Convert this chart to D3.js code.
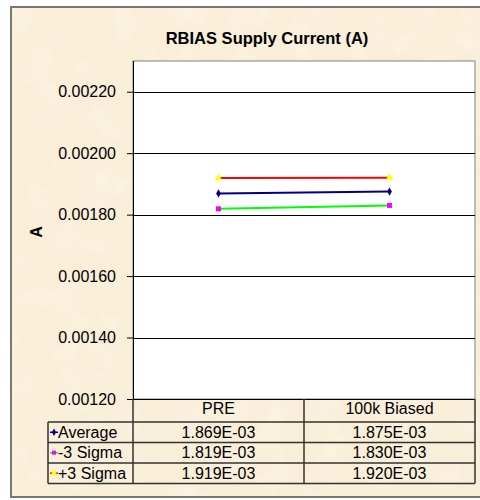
<!DOCTYPE html>
<html>
<head>
<meta charset="utf-8">
<script src="https://cdn.jsdelivr.net/npm/d3@7"></script>
<style>
  body { margin: 0; background: #fff; }
  svg { display: block; font-family: Arial, "Liberation Sans", sans-serif; }
</style>
</head>
<body>
<svg id="canvas"></svg>
<script>
/* Data */
const categories = ["PRE", "100k Biased"];
const seriesNames = ["Average", "-3 Sigma", "+3 Sigma"];
const average = [1.869e-3, 1.875e-3];
const minus3Sigma = [1.819e-3, 1.830e-3];
const plus3Sigma = [1.919e-3, 1.920e-3];
const yTicks = [0.0012, 0.0014, 0.0016, 0.0018, 0.0020, 0.0022];
const yDomain = [0.0012, 0.0023];

const series = [
    { name: seriesNames[0], values: average, line: "#000080", marker: "#000080", shape: "diamond" },
    { name: seriesNames[1], values: minus3Sigma, line: "#00ff00", marker: "#ff00ff", shape: "square" },
    { name: seriesNames[2], values: plus3Sigma, line: "#ff0000", marker: "#ffff00", shape: "triangle" }
];

const width = 480, height = 500;
const plot = { left: 133, right: 475, top: 61, bottom: 399 };
const legendLeft = 48;
const headerH = 23, rowH = 20.5;

/* Sets up svg */
const svg = d3.select("#canvas")
    .attr("width", width)
    .attr("height", height);

/* parchment texture */
const defs = svg.append("defs");
const filt = defs.append("filter").attr("id", "paper").attr("x", 0).attr("y", 0).attr("width", 1).attr("height", 1);
filt.append("feTurbulence").attr("type", "fractalNoise").attr("baseFrequency", 0.035).attr("numOctaves", 3).attr("seed", 4).attr("result", "n");
filt.append("feColorMatrix").attr("in", "n").attr("type", "matrix")
    .attr("values", "0 0 0 0 0.99  0 0 0 0 0.95  0 0 0 0 0.86  0 0 0 -0.9 0.5").attr("result", "c");
filt.append("feComposite").attr("in", "c").attr("in2", "SourceGraphic").attr("operator", "over");

svg.append("rect")
    .attr("x", 11).attr("y", 7).attr("width", 480).attr("height", 490)
    .attr("fill", "#f9eed8")
    .attr("stroke", "#7a7770").attr("stroke-width", 2);
svg.append("rect")
    .attr("x", 12).attr("y", 8).attr("width", 478).attr("height", 488)
    .attr("fill", "#f9eed8")
    .attr("filter", "url(#paper)");

/* Title */
svg.append("text")
    .attr("x", 267).attr("y", 44)
    .attr("text-anchor", "middle")
    .attr("font-size", 16.5).attr("font-weight", "bold")
    .text("RBIAS Supply Current (A)");

/* Scales */
const x = d3.scaleBand().domain(categories).range([plot.left, plot.right]);
const y = d3.scaleLinear().domain(yDomain).range([plot.bottom, plot.top]);

/* Plot area */
svg.append("rect")
    .attr("x", plot.left).attr("y", plot.top)
    .attr("width", plot.right - plot.left).attr("height", plot.bottom - plot.top)
    .attr("fill", "#fff")
    .attr("stroke", "#808080").attr("stroke-width", 1);

svg.append("g")
    .selectAll("line")
    .data(yTicks)
    .enter()
    .append("line")
    .attr("x1", plot.left).attr("x2", plot.right)
    .attr("y1", d => Math.round(y(d)) + 0.5).attr("y2", d => Math.round(y(d)) + 0.5)
    .attr("stroke", "#000").attr("stroke-width", 1);

/* Y axis */
const yAxis = svg.append("g")
    .attr("transform", `translate(${plot.left},0)`)
    .call(d3.axisLeft(y).tickValues(yTicks).tickFormat(d3.format(".5f")).tickSize(6).tickPadding(11));
yAxis.select(".domain").attr("stroke", "#000").attr("d", `M0.5,${plot.top}V${plot.bottom}`);
yAxis.selectAll("text").attr("font-size", 16).attr("font-family", "Arial, 'Liberation Sans', sans-serif").attr("fill", "#000");
yAxis.selectAll(".tick line").attr("stroke", "#000");

svg.append("text")
    .attr("transform", "translate(42,232) rotate(-90)")
    .attr("text-anchor", "middle")
    .attr("font-size", 16).attr("font-weight", "bold")
    .text("A");

/* Markers */
function drawMarker(g, shape, color, size) {
    if (shape === "diamond") {
        g.append("path").attr("d", d3.symbol(d3.symbolDiamond, size * 4)()).attr("fill", color);
    } else if (shape === "square") {
        g.append("rect").attr("x", -size / 2).attr("y", -size / 2).attr("width", size).attr("height", size).attr("fill", color);
    } else {
        g.append("path").attr("d", d3.symbol(d3.symbolTriangle, size * 5)()).attr("fill", color);
    }
}

/* Lines */
const line = d3.line()
    .x((d, i) => x(categories[i]) + x.bandwidth() / 2)
    .y(d => y(d));

const seriesG = svg.append("g").selectAll("g").data(series).enter().append("g");
seriesG.append("path")
    .attr("d", d => line(d.values))
    .attr("fill", "none")
    .attr("stroke", d => d.line)
    .attr("stroke-width", 2);
seriesG.each(function (s) {
    s.values.forEach((v, i) => {
        const m = d3.select(this).append("g")
            .attr("transform", `translate(${x(categories[i]) + x.bandwidth() / 2},${y(v)})`);
        drawMarker(m, s.shape, s.marker, 5);
    });
});

/* Data table */
const table = svg.append("g");
const tTop = plot.bottom;
const tBottom = tTop + headerH + rowH * series.length;
const tStroke = "#333";

// horizontal lines
const hLines = [tTop + headerH];
series.forEach((s, i) => hLines.push(tTop + headerH + rowH * (i + 1)));
table.selectAll("line.h")
    .data(hLines)
    .enter()
    .append("line")
    .attr("x1", legendLeft).attr("x2", plot.right)
    .attr("y1", d => d).attr("y2", d => d)
    .attr("stroke", tStroke).attr("stroke-width", 1.5);

// vertical lines
table.append("line").attr("x1", legendLeft).attr("x2", legendLeft)
    .attr("y1", tTop + headerH).attr("y2", tBottom).attr("stroke", tStroke).attr("stroke-width", 1.5);
[plot.left, x(categories[1]), plot.right].forEach(xx => {
    table.append("line").attr("x1", xx).attr("x2", xx)
        .attr("y1", tTop).attr("y2", tBottom).attr("stroke", tStroke).attr("stroke-width", 1.5);
});

// header
table.selectAll("text.head")
    .data(categories)
    .enter()
    .append("text")
    .attr("x", d => x(d) + x.bandwidth() / 2)
    .attr("y", tTop + 15)
    .attr("text-anchor", "middle")
    .attr("font-size", 16)
    .text(d => d);

// rows
const fmt = v => v.toExponential(3).replace(/e([+-])(\d)$/, "E$10$2").replace("e", "E");
series.forEach((s, i) => {
    const rowY = tTop + headerH + rowH * i;
    const base = rowY + 15.5;
    const cy = rowY + rowH / 2;
    table.append("line")
        .attr("x1", legendLeft + 2).attr("x2", legendLeft + 10)
        .attr("y1", cy).attr("y2", cy)
        .attr("stroke", s.line).attr("stroke-width", 1.5);
    drawMarker(table.append("g").attr("transform", `translate(${legendLeft + 6},${cy})`), s.shape, s.marker, 4);
    table.append("text")
        .attr("x", legendLeft + 10).attr("y", base)
        .attr("font-size", 16)
        .text(s.name);
    s.values.forEach((v, j) => {
        table.append("text")
            .attr("x", x(categories[j]) + x.bandwidth() / 2)
            .attr("y", base)
            .attr("text-anchor", "middle")
            .attr("font-size", 16)
            .text(fmt(v));
    });
});
</script>
</body>
</html>
